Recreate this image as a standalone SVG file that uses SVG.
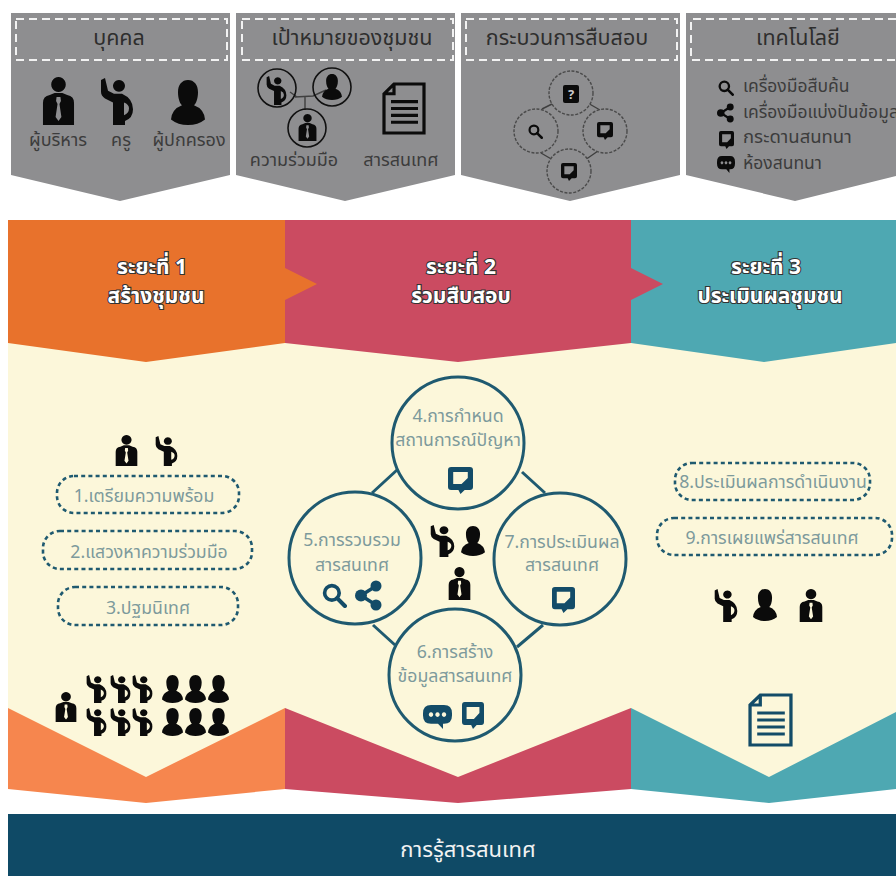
<svg xmlns="http://www.w3.org/2000/svg" xmlns:xlink="http://www.w3.org/1999/xlink" width="896" height="876" viewBox="0 0 896 876">
<style>
text{font-family:"Noto Sans","Noto Sans Thai","Liberation Sans","DejaVu Sans",sans-serif;text-anchor:middle}
.panel{fill:#8e8e90}
.hdr{fill:none;stroke:#f2f2f2;stroke-width:2;stroke-dasharray:8 5}
.ht{font-size:21.5px;fill:#2e2e2e}
.pt{font-size:18px;fill:#3c3c3c}
.lt{font-size:17.5px;fill:#3c3c3c;text-anchor:start}
.band{font-size:21px;font-weight:700;fill:#fff;stroke:#333;stroke-width:2.2px;paint-order:stroke}
.pill{fill:none;stroke:#1f5a70;stroke-width:2.6;stroke-dasharray:4 3.2}
.ct{font-size:17.7px;fill:#7d9a9c}
.circ{fill:#fcf7da;stroke:#1f5a70;stroke-width:3}
.gc{fill:#8e8e90;stroke:#4a4a4a;stroke-width:1.4;stroke-dasharray:3 1.5}
.k{color:#0b0b0b}.n{color:#134c68}
.conn{stroke:#1f5a70;stroke-width:3;fill:none}
.gconn{stroke:#3f3f3f;stroke-width:1.4;fill:none}
</style>
<defs>
<symbol id="manager" viewBox="0 0 34 48" preserveAspectRatio="none"><path fill="currentColor" fill-rule="evenodd" d="M17 0a7.500 7.500 0 1 1-.01 0ZM1 48V26Q1 19 8 18L13 16H21L26 18Q33 19 33 26V48ZM15 20L14.500 24L16 27L14 40L17 44L20 40L18 27L19.500 24L19 20Z"/></symbol>
<symbol id="teacher" viewBox="0 0 34 48" preserveAspectRatio="none"><path fill="currentColor" fill-rule="evenodd" d="M19 2a6 6 0 1 1-.01 0ZM1 2L5 0L8 13L14 16H22Q33 21 33 32Q33 41 25 44V48H13V25L5 21Q1 18 1 14ZM24 25V38Q29 36 29 31Q29 27 24 25Z"/></symbol>
<symbol id="parent" viewBox="0 0 34 48" preserveAspectRatio="none"><path fill="currentColor" d="M17 0C23 0 27 5 27 13C27 20 25 25 23 27Q33 31 34 42Q27 48 17 48Q7 48 0 42Q1 31 11 27C9 25 7 20 7 13C7 5 11 0 17 0Z"/></symbol>
<symbol id="doc" viewBox="0 0 44 54" preserveAspectRatio="none"><path fill="none" stroke="currentColor" stroke-width="3.200" d="M12 2H42V52H2V12ZM12 2V12H2M9 20H36M9 27H36M9 34H36M9 41H36"/></symbol>
<symbol id="board" viewBox="0 0 24 27" preserveAspectRatio="none"><path fill="currentColor" fill-rule="evenodd" d="M3 0H21Q24 0 24 3V20Q24 23 21 23H16L12 27L10 23H3Q0 23 0 20V3Q0 0 3 0ZM5 5V17H13L19 11V5Z"/></symbol>
<symbol id="search" viewBox="0 0 24 24"><circle cx="9.500" cy="9.500" r="7" fill="none" stroke="currentColor" stroke-width="3.500"/><path d="M14.500 14.500L22 22" stroke="currentColor" stroke-width="4" stroke-linecap="round"/></symbol>
<symbol id="share" viewBox="0 0 27 31"><path d="M21 6L6 15.500L21 25" fill="none" stroke="currentColor" stroke-width="3.500"/><circle cx="21" cy="6" r="5.500" fill="currentColor"/><circle cx="6" cy="15.500" r="6" fill="currentColor"/><circle cx="21" cy="25" r="5.500" fill="currentColor"/></symbol>
<symbol id="chat" viewBox="0 0 29 23" preserveAspectRatio="none"><path fill="currentColor" fill-rule="evenodd" d="M8 0H21Q29 0 29 8V10Q29 18 21 18H20L20 23L15 18H8Q0 18 0 10V8Q0 0 8 0ZM8 7a2.200 2.200 0 1 0 .01 0ZM14.500 7a2.200 2.200 0 1 0 .01 0ZM21 7a2.200 2.200 0 1 0 .01 0Z"/></symbol>
</defs>
<rect width="896" height="876" fill="#fff"/>

<g id="panel-people">
<path class="panel" d="M11 13H230V175L120 201L11 175Z"/>
<rect class="hdr" x="16" y="19" width="211" height="41"/>
<text class="ht" x="119" y="45">บุคคล</text>
<use href="#manager" class="k" x="42" y="77" width="33" height="48"/>
<use href="#teacher" class="k" x="100" y="78" width="34" height="47"/>
<use href="#parent" class="k" x="171" y="80" width="34" height="45"/>
<text class="pt" x="58" y="146">ผู้บริหาร</text>
<text class="pt" x="121" y="146">ครู</text>
<text class="pt" x="189" y="146">ผู้ปกครอง</text>
</g>
<g id="panel-goal">
<path class="panel" d="M236 13H455V175L345 201L236 175Z"/>
<rect class="hdr" x="242" y="19" width="211" height="41"/>
<text class="ht" x="352" y="45">เป้าหมายของชุมชน</text>
<path class="gconn" d="M295 97L313 96L326 90M305 97V110M297 97L290 92"/>
<circle cx="277" cy="88" r="19" fill="none" stroke="#111" stroke-width="1.600"/>
<circle cx="332" cy="87" r="19" fill="none" stroke="#111" stroke-width="1.600"/>
<circle cx="307" cy="128" r="19" fill="none" stroke="#111" stroke-width="1.600"/>
<use href="#teacher" class="k" x="266" y="76" width="21" height="29"/>
<use href="#parent" class="k" x="322" y="74" width="20" height="26"/>
<use href="#manager" class="k" x="298" y="114" width="19" height="27"/>
<use href="#doc" class="k" x="382" y="82" width="44" height="53"/>
<text class="pt" x="294" y="166">ความร่วมมือ</text>
<text class="pt" x="401" y="166">สารสนเทศ</text>
</g>
<g id="panel-process">
<path class="panel" d="M461 13H680V175L570 201L461 175Z"/>
<rect class="hdr" x="466" y="19" width="211" height="41"/>
<text class="ht" x="567" y="45">กระบวนการสืบสอบ</text>
<path class="gconn" d="M542 109L556 102M586 102L600 110M541 153L553 160M585 160L598 151"/>
<circle class="gc" cx="571" cy="93" r="22"/>
<circle class="gc" cx="536" cy="131" r="22"/>
<circle class="gc" cx="605" cy="131" r="22"/>
<circle class="gc" cx="569" cy="171" r="22"/>
<rect x="563" y="85" width="16" height="18" rx="2" fill="#0b0b0b"/>
<text x="571" y="99" style="font-size:13px;font-weight:700;fill:#ccc">?</text>
<use href="#search" class="k" x="528" y="124" width="15" height="15"/>
<use href="#board" class="k" x="597" y="122" width="16" height="18"/>
<use href="#board" class="k" x="561" y="163" width="16" height="18"/>
</g>
<g id="panel-tech">
<path class="panel" d="M686 13H896V176L795 201L686 175Z"/>
<path class="hdr" d="M896 19H691V60H896"/>
<text class="ht" x="798" y="45">เทคโนโลยี</text>
<use href="#search" class="k" x="718" y="80" width="16" height="16"/>
<use href="#share" class="k" x="717" y="102" width="17" height="22"/>
<use href="#board" class="k" x="719" y="131" width="15" height="18"/>
<use href="#chat" class="k" x="717" y="156" width="18" height="17"/>
<text class="lt" x="743" y="92">เครื่องมือสืบค้น</text>
<text class="lt" x="743" y="118">เครื่องมือแบ่งปันข้อมูล</text>
<text class="lt" x="743" y="143" style="font-size:18.5px">กระดานสนทนา</text>
<text class="lt" x="743" y="169">ห้องสนทนา</text>
</g>

<rect x="8" y="343" width="888" height="440" fill="#fcf7da"/>
<g id="phase-3">
<path fill="#4ea8b2" d="M631 220H896V343L764 362L631 343Z"/>
<path fill="#4ea8b2" d="M631 708L769 777L896 712V789L769 803L631 789Z"/>
</g>
<g id="phase-2">
<path fill="#cb4b61" d="M285 220H631V268L663 284L631 300V343L458 362L285 343Z"/>
<path fill="#cb4b61" d="M285 708L458 777L631 708V789L458 803L285 789Z"/>
</g>
<g id="phase-1">
<path fill="#e8722c" d="M8 220H285V268L317 284L285 300V343L146 362L8 343Z"/>
<path fill="#f6864e" d="M8 708L146 777L285 708V789L146 803L8 789Z"/>
</g>
<text class="band" x="152" y="274">ระยะที่ 1</text>
<text class="band" x="156" y="303">สร้างชุมชน</text>
<text class="band" x="461" y="274">ระยะที่ 2</text>
<text class="band" x="461" y="303">ร่วมสืบสอบ</text>
<text class="band" x="766" y="274">ระยะที่ 3</text>
<text class="band" x="770" y="303">ประเมินผลชุมชน</text>

<g id="connectors">
<path class="conn" d="M372 493L397 470M522 472L545 493M373 625L395 645M543 625L517 647"/>
</g>

<g id="people-phase-1">
<use href="#manager" class="k" x="115" y="435" width="23" height="31"/>
<use href="#teacher" class="k" x="155" y="436" width="23" height="30"/>
</g>
<g id="step-1"><rect class="pill" x="57" y="476" width="182" height="37" rx="17"/><text class="ct" x="144" y="502">1.เตรียมความพร้อม</text></g>
<g id="step-2"><rect class="pill" x="43" y="531" width="209" height="38" rx="17"/><text class="ct" x="149" y="558">2.แสวงหาความร่วมมือ</text></g>
<g id="step-3"><rect class="pill" x="58" y="587" width="180" height="38" rx="17"/><text class="ct" x="148" y="614">3.ปฐมนิเทศ</text></g>
<g id="crowd">
<use href="#manager" class="k" x="55" y="692" width="22" height="30"/>
<use href="#teacher" class="k" x="86" y="675" width="21" height="28"/>
<use href="#teacher" class="k" x="110" y="675" width="21" height="28"/>
<use href="#teacher" class="k" x="132" y="675" width="21" height="28"/>
<use href="#parent" class="k" x="162" y="675" width="21" height="28"/>
<use href="#parent" class="k" x="185" y="675" width="21" height="28"/>
<use href="#parent" class="k" x="208" y="675" width="21" height="28"/>
<use href="#teacher" class="k" x="86" y="708" width="21" height="28"/>
<use href="#teacher" class="k" x="110" y="708" width="21" height="28"/>
<use href="#teacher" class="k" x="132" y="708" width="21" height="28"/>
<use href="#parent" class="k" x="162" y="708" width="21" height="28"/>
<use href="#parent" class="k" x="185" y="708" width="21" height="28"/>
<use href="#parent" class="k" x="208" y="708" width="21" height="28"/>
</g>

<g id="step-4">
<circle class="circ" cx="458" cy="443" r="66"/>
<text class="ct" x="458" y="422">4.การกำหนด</text>
<text class="ct" x="458" y="446">สถานการณ์ปัญหา</text>
<use href="#board" class="n" x="448" y="467" width="25" height="27"/>
</g>
<g id="step-5">
<circle class="circ" cx="355" cy="558" r="66"/>
<text class="ct" x="352" y="546">5.การรวบรวม</text>
<text class="ct" x="352" y="571">สารสนเทศ</text>
<use href="#search" class="n" x="322" y="583" width="25" height="25"/>
<use href="#share" class="n" x="355" y="580" width="27" height="31"/>
</g>
<g id="step-6">
<circle class="circ" cx="455" cy="675" r="66"/>
<text class="ct" x="455" y="658">6.การสร้าง</text>
<text class="ct" x="455" y="682">ข้อมูลสารสนเทศ</text>
<use href="#chat" class="n" x="423" y="705" width="29" height="24"/>
<use href="#board" class="n" x="462" y="702" width="22" height="27"/>
</g>
<g id="step-7">
<circle class="circ" cx="560" cy="559" r="66"/>
<text class="ct" x="562" y="548">7.การประเมินผล</text>
<text class="ct" x="562" y="571">สารสนเทศ</text>
<use href="#board" class="n" x="552" y="587" width="23" height="26"/>
</g>
<g id="people-phase-2">
<use href="#teacher" class="k" x="430" y="525" width="25" height="32"/>
<use href="#parent" class="k" x="461" y="526" width="24" height="30"/>
<use href="#manager" class="k" x="448" y="567" width="23" height="33"/>
</g>

<g id="step-8"><rect class="pill" x="675" y="463" width="195" height="37" rx="17"/><text class="ct" x="773" y="488">8.ประเมินผลการดำเนินงาน</text></g>
<g id="step-9"><rect class="pill" x="657" y="518" width="235" height="37" rx="17"/><text class="ct" x="772" y="544">9.การเผยแพร่สารสนเทศ</text></g>
<g id="people-phase-3">
<use href="#teacher" class="k" x="714" y="589" width="24" height="33"/>
<use href="#parent" class="k" x="753" y="589" width="24" height="32"/>
<use href="#manager" class="k" x="799" y="589" width="24" height="33"/>
</g>
<g id="phase-3-doc"><use href="#doc" class="n" x="748" y="693" width="45" height="54"/></g>

<g id="literacy">
<rect x="8" y="814" width="888" height="62" fill="#0f4a66"/>
<text x="468" y="857" style="font-size:22px;fill:#f2f2f2">การรู้สารสนเทศ</text>
</g>
</svg>
